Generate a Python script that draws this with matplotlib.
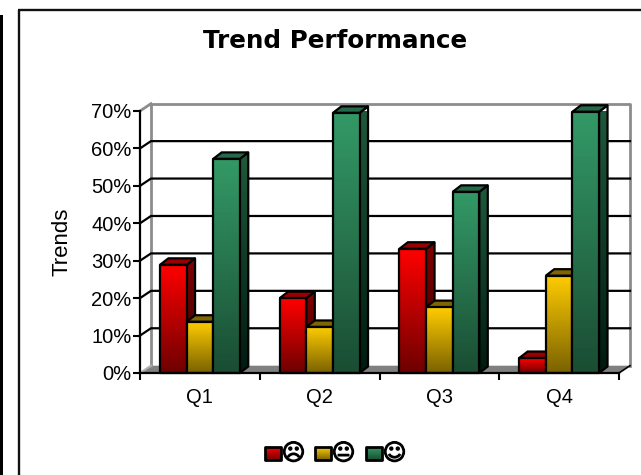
import numpy as np
import matplotlib
matplotlib.use('Agg')
import matplotlib.pyplot as plt
import matplotlib.patheffects as pe
from matplotlib.colors import LinearSegmentedColormap
from matplotlib.patches import Polygon, Rectangle

quarters = ['Q1', 'Q2', 'Q3', 'Q4']
sad = [28.9, 20.0, 33.2, 4.0]
neutral = [13.7, 12.3, 17.6, 26.0]
happy = [57.2, 69.5, 48.4, 69.8]
y_ticks = [0, 10, 20, 30, 40, 50, 60, 70]
faces = ['\u2639', '\U0001F610', '\u263A']

W, H = 641, 475
FONT = 'Liberation Sans'
# front, side and top colours of each series (top of face, bottom of face)
styles = [
    {'front': ('#ff0000', '#6e0000'), 'side': ('#800000', '#3c0000'), 'top': '#990000'},
    {'front': ('#ffcc00', '#7a6200'), 'side': ('#806600', '#3c3000'), 'top': '#806600'},
    {'front': ('#339966', '#1a4d33'), 'side': ('#1f5a3c', '#001a10'), 'top': '#26694a'},
]


def gradient_face(ax, pts, colors, z, lw=1.6):
    pts = np.array(pts)
    cmap = LinearSegmentedColormap.from_list('g', colors)
    grad = np.linspace(0, 1, 64)[:, None]
    ext = [pts[:, 0].min(), pts[:, 0].max(), pts[:, 1].min(), pts[:, 1].max()]
    im = ax.imshow(grad, extent=ext, origin='upper', aspect='auto', cmap=cmap, zorder=z)
    clip = Polygon(pts, closed=True, transform=ax.transData)
    im.set_clip_path(clip)
    ax.add_patch(Polygon(pts, closed=True, facecolor='none', edgecolor='black',
                         linewidth=lw, clip_on=False, zorder=z + 0.1, joinstyle='round'))


fig = plt.figure(figsize=(W / 100, H / 100), dpi=100, facecolor='white')

# whole figure overlay in pixel coordinates, for the frame and the legend
bg = fig.add_axes([0, 0, 1, 1], zorder=0)
bg.set_xlim(0, W)
bg.set_ylim(H, 0)
bg.axis('off')
bg.plot([19, 19], [H, 10], color='#111111', lw=1.7, solid_capstyle='butt')
bg.plot([18.4, W], [10, 10], color='#111111', lw=1.7, solid_capstyle='butt')
bg.add_patch(Rectangle((0, 15), 2.5, H - 15, facecolor='black', edgecolor='none'))

bg.text(335, 41, 'Trend Performance', ha='center', va='center', fontsize=17.7,
        fontweight='bold', family='DejaVu Sans')
bg.text(62, 242, 'Trends', ha='center', va='center', rotation=90, fontsize=16, family=FONT)

swatch_x = [265, 315, 366]
for sx, st, face in zip(swatch_x, styles, faces):
    gradient_face(bg, [(sx, 447), (sx + 16, 447), (sx + 16, 460), (sx, 460)],
                  (st['front'][1], st['front'][0]), 2, lw=2)
    txt = bg.text(sx + 28.5, 453.5, face, ha='center', va='center', fontsize=16.5,
                  family='DejaVu Sans')
    txt.set_path_effects([pe.withStroke(linewidth=0.9, foreground='black')])
bg.set_xlim(0, W)
bg.set_ylim(H, 0)

# chart axes: the front edge of the 3d box
ax = fig.add_axes([140 / W, 1 - 373 / H, 479 / W, 262 / H], zorder=1)
ax.patch.set_visible(False)
ax.set_xlim(0, 4)
ax.set_ylim(0, 70)

wall_dx = 11 / 120
wall_dy = 7.3 / (262 / 70)
bar_dx = 8.5 / 120
bar_dy = 6.5 / (262 / 70)
grey = '#8c8c8c'

# floor
ax.add_patch(Polygon([(0, 0), (wall_dx, wall_dy), (4 + wall_dx, wall_dy), (4, 0)], closed=True,
                     facecolor='#808080', edgecolor='none', clip_on=False, zorder=1))
# walls
ax.plot([wall_dx, wall_dx, 4 + wall_dx, 4 + wall_dx], [wall_dy, 70 + wall_dy, 70 + wall_dy, wall_dy],
        color=grey, lw=2, clip_on=False, zorder=1.2)
ax.plot([0, wall_dx], [70, 70 + wall_dy], color=grey, lw=2, clip_on=False, zorder=1.2)
ax.plot([0, wall_dx], [0, wall_dy], color='#b0b0b0', lw=1.5, clip_on=False, zorder=1.2)
ax.plot([4, 4 + wall_dx], [0, wall_dy], color='black', lw=1.2, clip_on=False, zorder=1.2)
# gridlines
for t in y_ticks[1:-1]:
    ax.plot([0, wall_dx, 4 + wall_dx], [t, t + wall_dy, t + wall_dy], color='black', lw=1.6,
            clip_on=False, zorder=1.3)

bar_w = 2 / 9
z = 3
for g in range(len(quarters)):
    for s, (vals, st) in enumerate(zip([sad, neutral, happy], styles)):
        x0 = g + 1 / 6 + s * bar_w
        x1 = x0 + bar_w
        v = vals[g]
        gradient_face(ax, [(x1, 0), (x1 + bar_dx, bar_dy), (x1 + bar_dx, v + bar_dy), (x1, v)],
                      st['side'], z)
        ax.add_patch(Polygon([(x0, v), (x1, v), (x1 + bar_dx, v + bar_dy), (x0 + bar_dx, v + bar_dy)],
                             closed=True, facecolor=st['top'], edgecolor='black', linewidth=1.6,
                             clip_on=False, zorder=z + 0.2))
        gradient_face(ax, [(x0, 0), (x1, 0), (x1, v), (x0, v)], st['front'], z + 0.3)
        z += 1

ax.set_xlim(0, 4)
ax.set_ylim(0, 70)
for side in ['top', 'right']:
    ax.spines[side].set_visible(False)
for side in ['left', 'bottom']:
    ax.spines[side].set_linewidth(1.6)
    ax.spines[side].set_zorder(50)

ax.set_yticks(y_ticks)
ax.set_yticklabels([f'{t}%' for t in y_ticks], fontsize=14.5, family=FONT)
ax.tick_params(axis='y', length=5, width=1.5, pad=1)
ax.set_xticks(np.arange(len(quarters)) + 0.5)
ax.set_xticklabels(quarters, fontsize=14.5, family=FONT)
ax.set_xticks(np.arange(len(quarters) + 1), minor=True)
ax.tick_params(axis='x', which='major', length=0, pad=11)
ax.tick_params(axis='x', which='minor', length=5, width=1.5)

fig.savefig('out.png', dpi=100)
